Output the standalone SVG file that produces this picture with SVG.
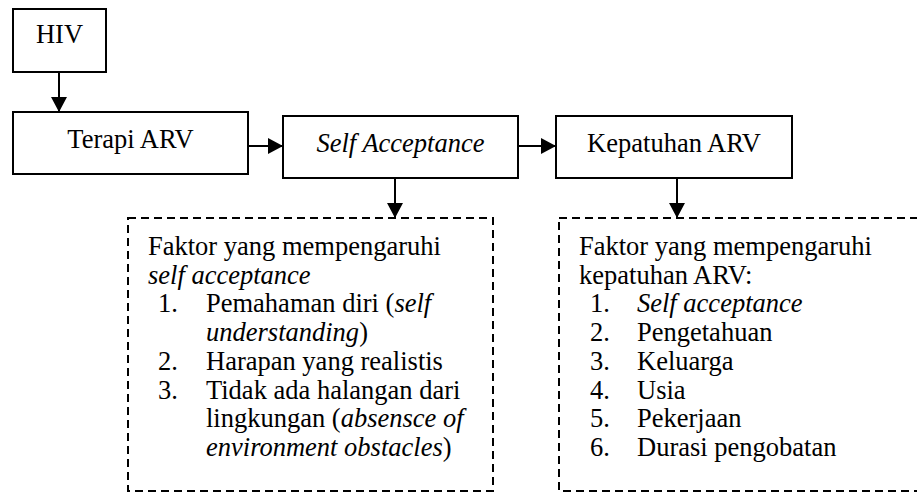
<svg xmlns="http://www.w3.org/2000/svg" width="917" height="493" viewBox="0 0 917 493">
<style>
  text { font-family: "Liberation Serif", "Times New Roman", serif; font-size: 26.5px; fill: #000; }
  .it { font-style: italic; }
  .box { fill: #fff; stroke: #000; stroke-width: 2; }
  .dash { fill: #fff; stroke: #000; stroke-width: 2; stroke-dasharray: 8 5; }
  .conn { stroke: #000; stroke-width: 2; fill: none; marker-end: url(#arrow); }
</style>
<defs>
  <marker id="arrow" markerUnits="userSpaceOnUse" markerWidth="16" markerHeight="16" refX="15" refY="8" orient="auto">
    <path d="M0,0 L15,8 L0,16 Z" fill="#000"/>
  </marker>
</defs>
<rect width="917" height="493" fill="#fff"/>

<g id="hiv">
  <rect class="box" x="13" y="9" width="93" height="63"/>
  <text x="59.5" y="43" text-anchor="middle">HIV</text>
</g>
<g id="terapi-arv">
  <rect class="box" x="13" y="112" width="235" height="62"/>
  <text x="130.5" y="148" text-anchor="middle">Terapi ARV</text>
</g>
<g id="self-acceptance">
  <rect class="box" x="283" y="116" width="235" height="62"/>
  <text x="400.5" y="152" text-anchor="middle" class="it">Self Acceptance</text>
</g>
<g id="kepatuhan-arv">
  <rect class="box" x="556" y="116" width="236" height="62"/>
  <text x="674" y="152" text-anchor="middle">Kepatuhan ARV</text>
</g>
<g id="faktor-self-acceptance">
  <rect class="dash" x="128" y="218" width="365" height="273"/>
  <text x="148" y="255">Faktor yang mempengaruhi</text>
  <text x="148" y="283.7" class="it">self acceptance</text>
  <text x="158" y="312.4">1.</text>
  <text x="206" y="312.4">Pemahaman diri (<tspan class="it">self</tspan></text>
  <text x="206" y="341.1"><tspan class="it">understanding</tspan>)</text>
  <text x="158" y="369.8">2.</text>
  <text x="206" y="369.8">Harapan yang realistis</text>
  <text x="158" y="398.5">3.</text>
  <text x="206" y="398.5">Tidak ada halangan dari</text>
  <text x="206" y="427.2">lingkungan (<tspan class="it">absensce of</tspan></text>
  <text x="206" y="455.9"><tspan class="it">environment obstacles</tspan>)</text>
</g>
<g id="faktor-kepatuhan">
  <rect class="dash" x="559" y="218" width="370" height="273"/>
  <text x="579" y="255">Faktor yang mempengaruhi</text>
  <text x="579" y="283.7">kepatuhan ARV:</text>
  <text x="590" y="312.4">1.</text>
  <text x="637" y="312.4" class="it">Self acceptance</text>
  <text x="590" y="341.1">2.</text>
  <text x="637" y="341.1">Pengetahuan</text>
  <text x="590" y="369.8">3.</text>
  <text x="637" y="369.8">Keluarga</text>
  <text x="590" y="398.5">4.</text>
  <text x="637" y="398.5">Usia</text>
  <text x="590" y="427.2">5.</text>
  <text x="637" y="427.2">Pekerjaan</text>
  <text x="590" y="455.9">6.</text>
  <text x="637" y="455.9">Durasi pengobatan</text>
</g>
<g id="connectors">
  <line class="conn" x1="59" y1="72" x2="59" y2="112"/>
  <line class="conn" x1="248" y1="146" x2="283" y2="146"/>
  <line class="conn" x1="518" y1="146" x2="556" y2="146"/>
  <line class="conn" x1="395" y1="178" x2="395" y2="218"/>
  <line class="conn" x1="677" y1="178" x2="677" y2="218"/>
</g>
</svg>
